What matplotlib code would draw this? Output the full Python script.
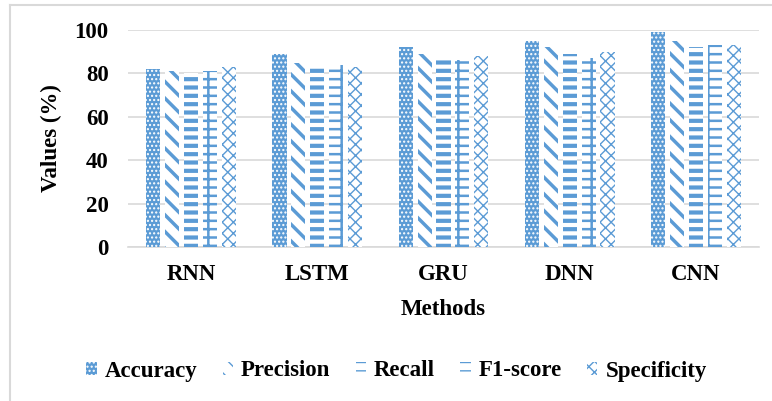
import matplotlib
matplotlib.use("Agg")
import matplotlib.pyplot as plt
import numpy as np
from matplotlib.lines import Line2D

methods = ["RNN", "LSTM", "GRU", "DNN", "CNN"]
metrics = ["Accuracy", "Precision", "Recall", "F1-score", "Specificity"]
accuracy = [82, 89, 92, 95, 99]
precision = [81, 85, 89, 92, 95]
recall = [80, 83, 86, 89, 92]
f1_score = [81, 84, 86, 87, 93]
specificity = [83, 83, 88, 90, 93]
series = [accuracy, precision, recall, f1_score, specificity]

blue = "#5B9BD5"
plt.rcParams['font.family'] = ['Liberation Serif', 'DejaVu Serif']
plt.rcParams['font.weight'] = 'bold'
FS = 16.5

fig = plt.figure(figsize=(7.72, 4.01), dpi=100)
ax = fig.add_axes([128/772, 1-247/401, (759-128)/772, (247-30)/401])

styles = [
    dict(face=blue, hatch_col="white", hatch="....", hlw=1.0),
    dict(face="white", hatch_col=blue, hatch="\\\\", hlw=2.5),
    dict(face="white", hatch_col=blue, hatch="--", hlw=3.0),
    dict(face="white", hatch_col=blue, hatch="--|", hlw=1.8),
    dict(face="white", hatch_col=blue, hatch="xxx", hlw=1.0),
]

x = np.arange(len(methods))
w = 0.112
pitch = 0.15
handles = []
for i, (vals, st, name) in enumerate(zip(series, styles, metrics)):
    plt.rcParams['hatch.linewidth'] = st["hlw"]
    bars = ax.bar(x + (i - 2) * pitch, vals, width=w, facecolor=st["face"],
                  edgecolor=st["hatch_col"], linewidth=0, hatch=st["hatch"],
                  label=name, zorder=3)
    handles.append(bars)

ax.set_xlim(-0.5, len(methods) - 0.5)
ax.set_ylim(0, 100)
ax.set_yticks(range(0, 101, 20))
ax.set_xticks(x)
ax.set_xticklabels(methods, fontsize=FS, fontweight='bold')
ax.tick_params(axis='y', labelsize=FS, length=0, pad=14)
ax.tick_params(axis='x', length=0, pad=12)
for lbl in ax.get_yticklabels():
    lbl.set_fontweight('bold')
ax.grid(axis='y', color="#D9D9D9", linewidth=1.2, zorder=0)
for s in ["top", "right", "left"]:
    ax.spines[s].set_visible(False)
ax.spines["bottom"].set_color("#D9D9D9")
ax.spines["bottom"].set_linewidth(1.2)

ax.set_ylabel("Values (%)", fontsize=FS, fontweight='bold', labelpad=9)
ax.set_xlabel("Methods", fontsize=FS, fontweight='bold', labelpad=10)

leg = fig.legend(handles=handles, labels=metrics, loc='center', ncol=5,
                 bbox_to_anchor=(396.5/772, 1-371/401), frameon=False,
                 prop={'family': 'Liberation Serif', 'weight': 'bold', 'size': FS},
                 handlelength=0.45, handleheight=0.5, handletextpad=0.35,
                 columnspacing=1.1)

# chart border (light gray)
fig.add_artist(Line2D([10/772, 10/772], [0, 1-5/401], transform=fig.transFigure,
                      color="#D9D9D9", linewidth=1.5))
fig.add_artist(Line2D([10/772, 1], [1-5/401, 1-5/401], transform=fig.transFigure,
                      color="#D9D9D9", linewidth=1.5))

fig.savefig("out.png", dpi=100)
